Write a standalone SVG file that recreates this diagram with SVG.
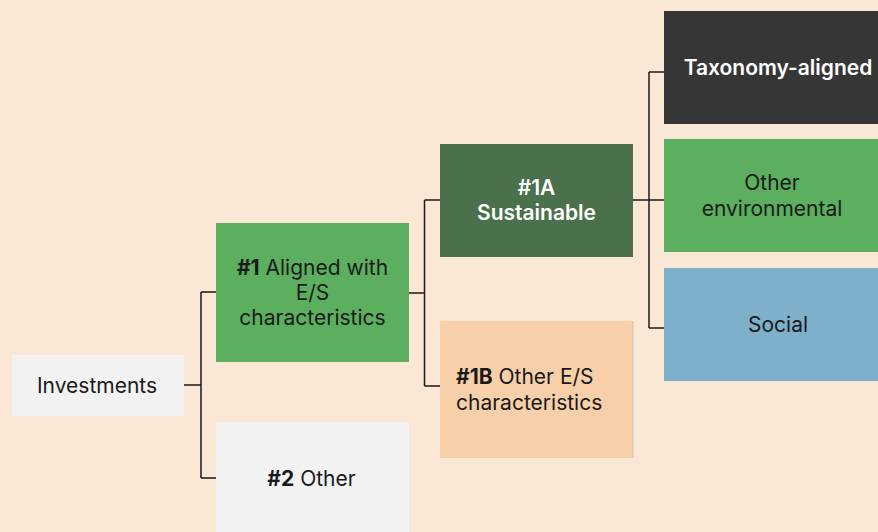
<svg xmlns="http://www.w3.org/2000/svg" width="878" height="532" viewBox="0 0 878 532">
<style>
text{font-family:Inter,"Noto Sans","Liberation Sans",sans-serif;font-size:21px;fill:#1a1a1a}
.c{text-anchor:middle}
.w{fill:#ffffff;font-weight:600}
.b{font-weight:700}
.ln{fill:none;stroke:#1a1a1a;stroke-width:1.5}
</style>
<rect width="878" height="532" fill="#FAE7D6"/>
<g id="connectors">
<path class="ln" d="M184 385H201M201 292V478M201 292H216M201 478H216"/>
<path class="ln" d="M409 293H424.5M424.5 200V386M424.5 200H440M424.5 386H440"/>
<path class="ln" d="M633 200H664M649 72V328M649 72H664M649 328H664"/>
</g>
<g id="investments">
<rect x="12" y="355" width="172" height="61" fill="#F2F2F2"/>
<text class="c" x="97" y="392.5">Investments</text>
</g>
<g id="n1">
<rect x="216" y="223" width="193" height="139" fill="#5BAF5E"/>
<text class="c" x="312.5" y="274.5"><tspan class="b">#1</tspan> Aligned with</text>
<text class="c" x="312.5" y="300">E/S</text>
<text class="c" x="312.5" y="325">characteristics</text>
</g>
<g id="n2">
<rect x="216" y="422" width="193" height="110" fill="#F2F2F2"/>
<text class="c" x="311.5" y="485.5"><tspan class="b">#2</tspan> Other</text>
</g>
<g id="n1a">
<rect x="440" y="144" width="193" height="113" fill="#4A704C"/>
<text class="c w" x="536.5" y="194.5">#1A</text>
<text class="c w" x="536.5" y="219.5">Sustainable</text>
</g>
<g id="n1b">
<rect x="440" y="321" width="193" height="137" fill="#F7D0AA"/>
<line x1="633" y1="321" x2="633" y2="458" stroke="#c8c0b8" stroke-width="1"/>
<text x="456" y="383.5"><tspan class="b">#1B</tspan> Other E/S</text>
<text x="456" y="409.5">characteristics</text>
</g>
<g id="taxonomy">
<rect x="664" y="11" width="214" height="113" fill="#363636"/>
<text class="c w" x="778" y="75">Taxonomy-aligned</text>
</g>
<g id="otherenv">
<rect x="664" y="139" width="214" height="113" fill="#5BAF5E"/>
<text class="c" x="772" y="190">Other</text>
<text class="c" x="772" y="216">environmental</text>
</g>
<g id="social">
<rect x="664" y="268" width="214" height="113" fill="#7EAFCB"/>
<text class="c" x="778" y="332">Social</text>
</g>
</svg>
